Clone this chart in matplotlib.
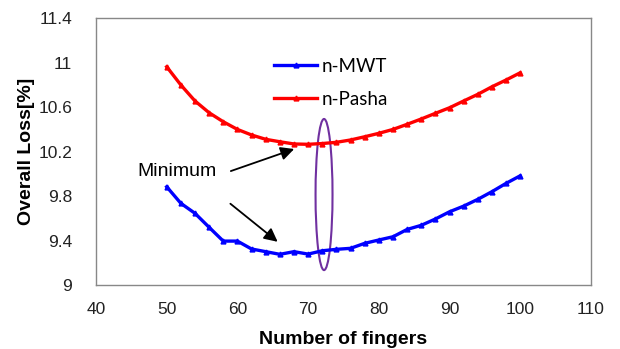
import matplotlib
matplotlib.use("Agg")
import matplotlib.pyplot as plt
from matplotlib.patches import Ellipse

fingers = list(range(50, 101, 2))
mwt = [9.884, 9.735, 9.645, 9.519, 9.395, 9.395, 9.324, 9.300, 9.276, 9.300,
       9.278, 9.308, 9.321, 9.330, 9.375, 9.405, 9.434, 9.500, 9.537, 9.594,
       9.659, 9.710, 9.771, 9.840, 9.915, 9.983]
pasha = [10.964, 10.800, 10.656, 10.550, 10.469, 10.400, 10.350, 10.311, 10.289, 10.269,
         10.266, 10.273, 10.284, 10.305, 10.334, 10.365, 10.400, 10.446, 10.494, 10.545,
         10.595, 10.656, 10.716, 10.784, 10.845, 10.910]

xticks = [40, 50, 60, 70, 80, 90, 100, 110]
yticks = [9, 9.4, 9.8, 10.2, 10.6, 11, 11.4]

fig = plt.figure(figsize=(6.2, 3.49), dpi=100)
ax = fig.add_axes([0.1548, 0.1834, 0.7984, 0.7642])

ax.plot(fingers, mwt, color="#0000FF", lw=2.4, marker="^", ms=3.5, label="n-MWT")
ax.plot(fingers, pasha, color="#FF0000", lw=2.4, marker="^", ms=3.5, label="n-Pasha")

ax.set_xlim(40, 110)
ax.set_ylim(9, 11.4)
ax.set_xticks(xticks)
ax.set_yticks(yticks)
ax.set_yticklabels([("%g" % v) for v in yticks])
ax.tick_params(length=0, labelsize=12.5, labelcolor="#222222")
ax.tick_params(axis="x", pad=12)
ax.tick_params(axis="y", pad=17)
for lab in ax.get_xticklabels() + ax.get_yticklabels():
    lab.set_family("Liberation Sans")
for s in ax.spines.values():
    s.set_color("#888888")
    s.set_linewidth(1)

ax.set_xlabel("Number of fingers", fontsize=14, fontweight="bold", family="Liberation Sans", labelpad=10)
ax.set_ylabel("Overall Loss[%]", fontsize=14, fontweight="bold", family="Liberation Sans", labelpad=2.5)

ax.legend(loc="upper left", bbox_to_anchor=(0.442, 0.834), bbox_transform=fig.transFigure,
          frameon=False, borderpad=0, borderaxespad=0, handlelength=2.3, handletextpad=0.25,
          labelspacing=0.85, prop={"family": "Lato", "size": 13.5})

# annotation
ax.text(51.46, 10.02, "Minimum", fontsize=14, family="Liberation Sans", ha="center", va="center")
arrow = dict(arrowstyle="-|>", color="black", lw=1.3, mutation_scale=20)
ax.annotate("", xy=(68.4, 10.232), xytext=(58.7, 10.017), arrowprops=arrow)
ax.annotate("", xy=(66.0, 9.373), xytext=(58.7, 9.747), arrowprops=arrow)

ax.add_patch(Ellipse((72.25, 9.814), 2.4, 1.36, fill=False, edgecolor="#7030A0", lw=1.5))

fig.savefig("out.png", dpi=100)
